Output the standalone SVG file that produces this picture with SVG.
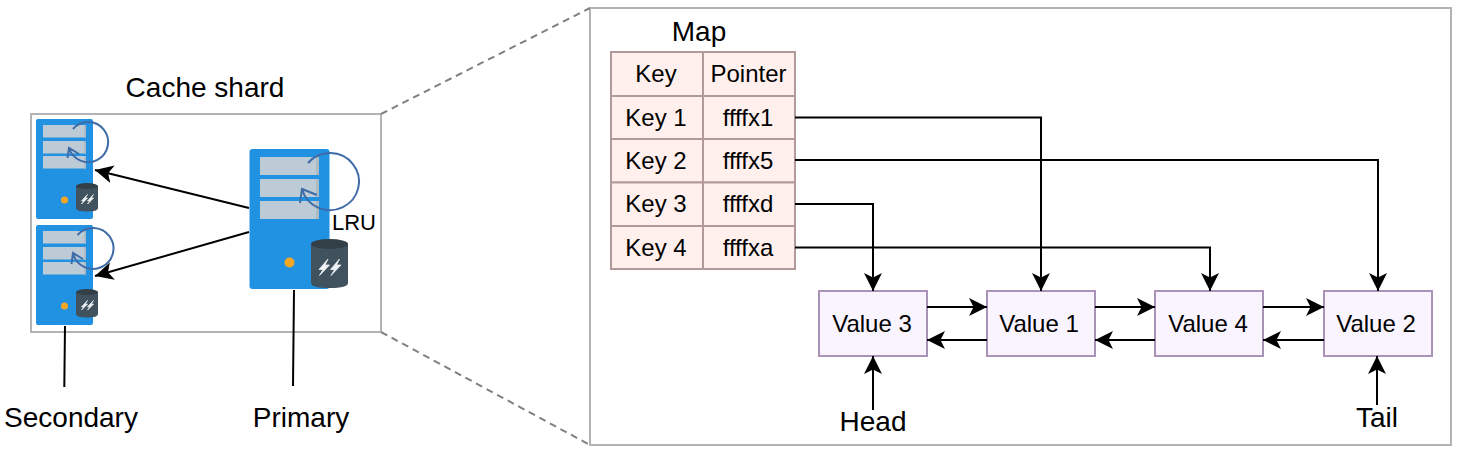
<svg xmlns="http://www.w3.org/2000/svg" width="1461" height="456" viewBox="0 0 1461 456">
<style>
text{font-family:"Liberation Sans",Arial,sans-serif;fill:#000;text-anchor:middle}
.t{font-size:24px}.b{font-size:28px}
.frame{fill:none;stroke:#b3b3b3;stroke-width:2}
.cell{fill:#fff0ee;stroke:#b39a9a;stroke-width:2}
.val{fill:#faf4ff;stroke:#a994b8;stroke-width:2}
.dash{fill:none;stroke:#808080;stroke-width:2;stroke-dasharray:7 5}
.ln{fill:none;stroke:#000;stroke-width:2}
.body{fill:#2191e1}.panel{fill:#bccbd6}.shade{fill:#aebbc4}.dot{fill:#f5a623}
.cyl{fill:#40525e}.cyltop{fill:#323f47}.bolt{fill:#eef2f4;stroke:#eef2f4;stroke-width:.8;stroke-linejoin:round}
.lru{fill:none;stroke:#3f6ca8;stroke-width:2}
</style>
<defs>
<marker id="a" markerUnits="userSpaceOnUse" markerWidth="20" markerHeight="20" refX="18" refY="9" orient="auto"><path d="M0 0L18 9L0 18L4.500 9Z" fill="#000"/></marker>
<g id="srv-big">
<rect class="body" x="249.500" y="149" width="80" height="140" rx="3"/>
<rect class="panel" x="260" y="157" width="59" height="18"/><rect class="shade" x="316" y="157" width="3" height="18"/>
<rect class="panel" x="260" y="179" width="59" height="18"/><rect class="shade" x="316" y="179" width="3" height="18"/>
<rect class="panel" x="260" y="201" width="59" height="18"/><rect class="shade" x="316" y="201" width="3" height="18"/>
<circle class="dot" cx="289.500" cy="262.500" r="5"/>
<path class="cyl" d="M311 244V283Q311 288 329.500 288T348 283V244Z"/>
<ellipse class="cyltop" cx="329.500" cy="244" rx="18.500" ry="5"/>
<path class="bolt" d="M328 259L319 269.500H323L319.500 275.500L329.500 265H325ZM339.500 259L330.500 269.500H334.500L331 275.500L341 265H336.500Z"/>
<path class="lru" d="M308 163A29 28.500 0 1 1 302 189M317 195L302 189L300 203"/>
</g>
<g id="srv-small">
<rect class="body" x="36" y="119" width="57" height="100" rx="2"/>
<rect class="panel" x="43" y="125" width="43" height="12.500"/><rect class="shade" x="84" y="125" width="2" height="12.500"/>
<rect class="panel" x="43" y="141" width="43" height="12.500"/><rect class="shade" x="84" y="141" width="2" height="12.500"/>
<rect class="panel" x="43" y="156" width="43" height="12.500"/><rect class="shade" x="84" y="156" width="2" height="12.500"/>
<circle class="dot" cx="64.500" cy="200" r="3.500"/>
<path class="cyl" d="M76 186V208Q76 211.500 87 211.500T98 208V186Z"/>
<ellipse class="cyltop" cx="87" cy="186" rx="11" ry="3"/>
<path class="bolt" d="M87.500 194.500L81.500 201H84L81.500 204L87.500 198H85ZM93.500 194.500L87.500 201H90L87.500 204L93.500 198H91Z"/>
</g>
</defs>
<g id="cache-shard">
<rect class="frame" x="31" y="114" width="350" height="218"/>
<text class="b" x="205" y="97">Cache shard</text>
</g>
<g id="secondary-1"><use href="#srv-small"/><path class="lru" d="M73 129A20 20 0 1 1 69 148M79 154L69 148L67.500 158"/></g>
<g id="secondary-2"><use href="#srv-small" y="106"/><path class="lru" d="M77.500 235A20.500 20.500 0 1 1 73 253M83 259L73 253L71.500 264"/></g>
<g id="primary"><use href="#srv-big"/><text x="354" y="230" style="font-size:22px">LRU</text></g>
<g id="detail-frame"><rect class="frame" x="590" y="8" width="861" height="437"/></g>
<g id="map">
<text x="699" y="41" class="b">Map</text>
<rect class="cell" x="611" y="52" width="92" height="44"/><rect class="cell" x="703" y="52" width="92" height="44"/>
<rect class="cell" x="611" y="96" width="92" height="43"/><rect class="cell" x="703" y="96" width="92" height="43"/>
<rect class="cell" x="611" y="139" width="92" height="43.500"/><rect class="cell" x="703" y="139" width="92" height="43.500"/>
<rect class="cell" x="611" y="182.500" width="92" height="43.500"/><rect class="cell" x="703" y="182.500" width="92" height="43.500"/>
<rect class="cell" x="611" y="226" width="92" height="43"/><rect class="cell" x="703" y="226" width="92" height="43"/>
<text class="t" x="656" y="82">Key</text><text class="t" x="748.500" y="82">Pointer</text>
<text class="t" x="656" y="126">Key 1</text><text class="t" x="748" y="126">ffffx1</text>
<text class="t" x="656" y="169">Key 2</text><text class="t" x="748" y="169">ffffx5</text>
<text class="t" x="656" y="212">Key 3</text><text class="t" x="748" y="212">ffffxd</text>
<text class="t" x="656" y="256">Key 4</text><text class="t" x="748" y="256">ffffxa</text>
</g>
<g id="value-3"><rect class="val" x="819" y="291" width="108" height="65"/><text x="872" y="332" class="t">Value 3</text></g>
<g id="value-1"><rect class="val" x="987" y="291" width="108" height="65"/><text x="1039" y="332" class="t">Value 1</text></g>
<g id="value-4"><rect class="val" x="1155" y="291" width="108" height="65"/><text x="1208" y="332" class="t">Value 4</text></g>
<g id="value-2"><rect class="val" x="1324" y="291" width="108" height="65"/><text x="1376" y="332" class="t">Value 2</text></g>
<g id="labels">
<text class="b" x="71" y="427">Secondary</text>
<text class="b" x="301" y="427">Primary</text>
<text class="b" x="873" y="431">Head</text>
<text class="b" x="1377" y="427">Tail</text>
</g>
<g id="connectors">
<path class="dash" d="M381 114L590 8M381 332L590 445"/>
<path class="ln" marker-end="url(#a)" d="M249 208L95 170"/>
<path class="ln" marker-end="url(#a)" d="M249 232L95 276"/>
<path class="ln" d="M65 326L64.300 387M294 290L293 386"/>
<path class="ln" marker-end="url(#a)" d="M795 117.500H1041V291"/>
<path class="ln" marker-end="url(#a)" d="M795 160H1378V291"/>
<path class="ln" marker-end="url(#a)" d="M795 204H873V291"/>
<path class="ln" marker-end="url(#a)" d="M795 247.500H1210V291"/>
<path class="ln" marker-end="url(#a)" d="M927 307H987"/>
<path class="ln" marker-end="url(#a)" d="M987 340H927"/>
<path class="ln" marker-end="url(#a)" d="M1095 307H1155"/>
<path class="ln" marker-end="url(#a)" d="M1155 340H1095"/>
<path class="ln" marker-end="url(#a)" d="M1263 307H1324"/>
<path class="ln" marker-end="url(#a)" d="M1324 340H1263"/>
<path class="ln" marker-end="url(#a)" d="M873 410V356"/>
<path class="ln" marker-end="url(#a)" d="M1377 405V356"/>
</g>
</svg>
